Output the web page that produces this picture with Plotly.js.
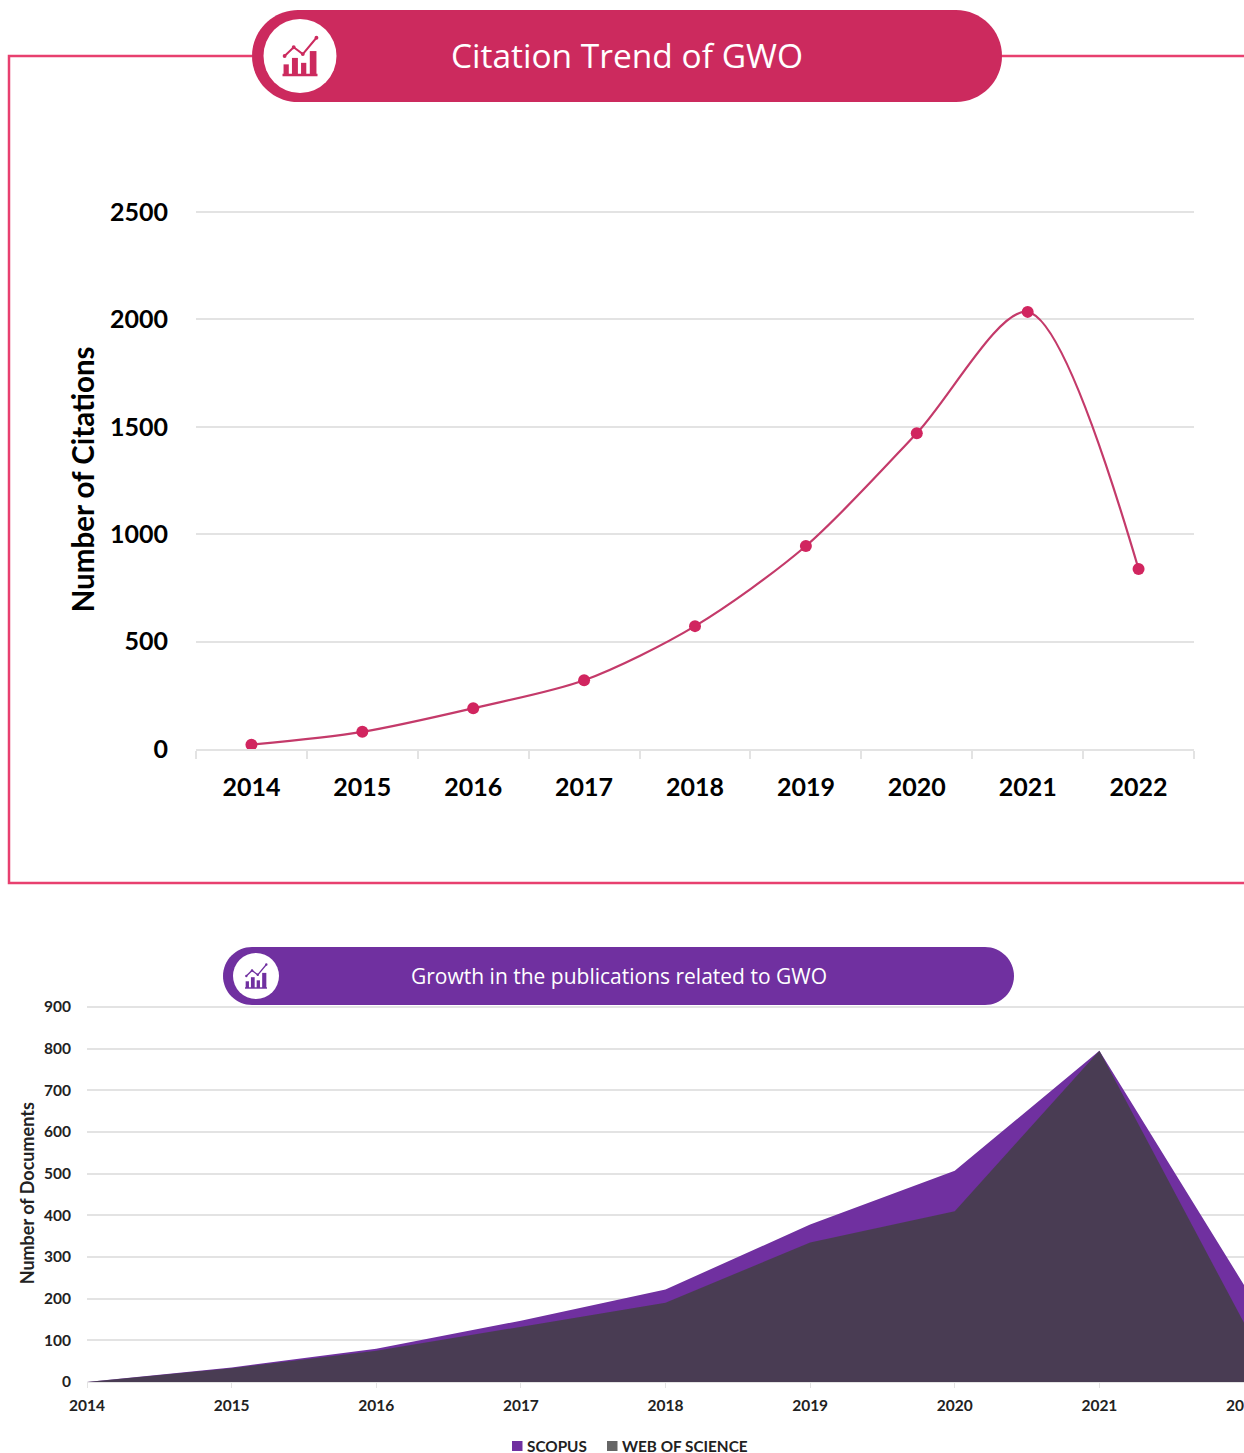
<!DOCTYPE html>
<html>
<head>
<meta charset="utf-8">
<script src="https://cdn.plot.ly/plotly-3.0.1.min.js"></script>
<style>html,body{margin:0;padding:0;background:#fff;overflow:hidden}#chart{width:1244px;height:1453px}</style>
</head>
<body>
<div id="chart"></div>
<script>
// Yearly citation counts
const citationYears = ['2014','2015','2016','2017','2018','2019','2020','2021','2022'];
const citations = [20, 80, 190, 320, 572, 945, 1470, 2035, 838];

// Yearly document counts per database
const publicationYears = ['2014','2015','2016','2017','2018','2019','2020','2021','2022'];
const scopus = [0, 35, 80, 147, 222, 378, 507, 795, 233];
const webOfScience = [0, 33, 75, 132, 190, 335, 410, 795, 142];

const citationTicks = [0, 500, 1000, 1500, 2000, 2500];
const documentTicks = [0, 100, 200, 300, 400, 500, 600, 700, 800, 900];

const W = 1244, H = 1453;
const px = x => x / W;
const py = y => 1 - y / H;

const CRIMSON = '#cc2a5e', FRAME = '#e8406f', PURPLE = '#7030a0';
const GRID = '#e3e3e3';
const FONT = 'Lato, Carlito, sans-serif';

const paperShape = o => Object.assign({xref: 'paper', yref: 'paper'}, o);

// Rounded banner behind a heading
function pill(x0, y0, x1, y1, fill) {
  const r = (y1 - y0) / 2, k = r * 0.45;
  const P = (x, y) => px(x).toFixed(5) + ',' + py(y).toFixed(5);
  const path = 'M' + P(x0 + r, y0) + ' L' + P(x1 - r, y0) +
    ' C' + P(x1 - k, y0) + ' ' + P(x1, y0 + k) + ' ' + P(x1, y0 + r) +
    ' C' + P(x1, y1 - k) + ' ' + P(x1 - k, y1) + ' ' + P(x1 - r, y1) +
    ' L' + P(x0 + r, y1) +
    ' C' + P(x0 + k, y1) + ' ' + P(x0, y1 - k) + ' ' + P(x0, y0 + r) +
    ' C' + P(x0, y0 + k) + ' ' + P(x0 + k, y0) + ' ' + P(x0 + r, y0) + ' Z';
  return paperShape({type: 'path', path, fillcolor: fill, line: {width: 0}, layer: 'above'});
}

// Small "bars with a trend line" badge, laid out in a unit box
function badge(cx, cy, rx, ry, iw, ih, color) {
  const list = [paperShape({type: 'circle', x0: px(cx - rx), x1: px(cx + rx), y0: py(cy + ry), y1: py(cy - ry),
    fillcolor: '#fff', line: {width: 0}, layer: 'above'})];
  const ox = cx - iw / 2, oy = cy - ih / 2;
  const X = u => px(ox + u * iw), Y = v => py(oy + v * ih);
  [[0.03, 0.18, 0.72], [0.27, 0.44, 0.55], [0.53, 0.68, 0.68], [0.78, 0.97, 0.37]].forEach(b => {
    list.push(paperShape({type: 'rect', x0: X(b[0]), x1: X(b[1]), y0: Y(1), y1: Y(b[2]), fillcolor: color, line: {width: 0}, layer: 'above'}));
  });
  list.push(paperShape({type: 'rect', x0: X(0), x1: X(1), y0: Y(1.03), y1: Y(0.97), fillcolor: color, line: {width: 0}, layer: 'above'}));
  const knots = [[0.06, 0.5], [0.32, 0.27], [0.58, 0.45], [0.97, 0.02]];
  const d = knots.map((k, i) => (i ? 'L' : 'M') + X(k[0]).toFixed(5) + ',' + Y(k[1]).toFixed(5)).join(' ');
  list.push(paperShape({type: 'path', path: d, line: {color, width: iw > 30 ? 2 : 1.3}, layer: 'above'}));
  const dot = iw * 0.055;
  knots.forEach(k => {
    const kx = ox + k[0] * iw, ky = oy + k[1] * ih;
    list.push(paperShape({type: 'circle', x0: px(kx - dot), x1: px(kx + dot), y0: py(ky + dot), y1: py(ky - dot), fillcolor: color, line: {width: 0}, layer: 'above'}));
  });
  return list;
}

// Square key next to a legend label
const legendKey = (x, color) => paperShape({type: 'rect', x0: px(x), x1: px(x + 10.5), y0: py(1451), y1: py(1441),
  fillcolor: color, line: {width: 0}, layer: 'above'});
const legendLabel = (x, text) => ({text, xref: 'paper', yref: 'paper', x: px(x), y: py(1445.5), xanchor: 'left', yanchor: 'middle',
  showarrow: false, xshift: -2, font: {family: FONT, size: 15.3, weight: 700, color: '#222'}});

// Open-topped frame around the citation chart
const framePath = 'M' + px(252) + ',' + py(56) + ' L' + px(9) + ',' + py(56) + ' L' + px(9) + ',' + py(883) +
  ' L' + px(1244) + ',' + py(883) + ' M' + px(1000) + ',' + py(56) + ' L' + px(1244) + ',' + py(56);

const traces = [
  {x: citationYears, y: citations, xaxis: 'x', yaxis: 'y', type: 'scatter', mode: 'lines+markers',
   line: {shape: 'spline', smoothing: 0.85, color: '#c43a6a', width: 2.2},
   marker: {color: '#d1255f', size: 12}, cliponaxis: false, showlegend: false, hoverinfo: 'x+y'},
  {x: publicationYears, y: scopus, xaxis: 'x2', yaxis: 'y2', type: 'scatter', mode: 'lines', fill: 'tozeroy',
   fillcolor: PURPLE, line: {width: 0, color: PURPLE}, name: 'SCOPUS', showlegend: false},
  {x: publicationYears, y: webOfScience, xaxis: 'x2', yaxis: 'y2', type: 'scatter', mode: 'lines', fill: 'tozeroy',
   fillcolor: 'rgba(64,64,64,0.8)', line: {width: 0, color: '#404040'}, name: 'WEB OF SCIENCE', showlegend: false}
];

const layout = {
  width: W, height: H,
  margin: {l: 0, r: 0, t: 0, b: 0},
  paper_bgcolor: '#fff', plot_bgcolor: '#fff',
  showlegend: false,
  font: {family: FONT, color: '#000'},
  title: {text: 'Citation Trend of GWO', x: px(627), y: py(56), xanchor: 'center', yanchor: 'middle',
          xref: 'paper', yref: 'paper', font: {family: '"Open Sans", sans-serif', size: 33.5, color: '#fff'}},
  xaxis: {
    domain: [px(196), px(1194)], anchor: 'y', type: 'category', categoryorder: 'array', categoryarray: citationYears,
    range: [-0.5, 8.5], tickson: 'boundaries', ticks: 'outside', ticklen: 8, tickcolor: GRID, tickwidth: 2,
    showgrid: false, showline: true, linecolor: GRID, linewidth: 2, zeroline: false,
    ticklabelstandoff: 15, tickfont: {family: FONT, size: 25, weight: 700, color: '#000'}
  },
  // The range runs a little past the top tick so its gridline is kept
  yaxis: {
    domain: [py(749), py(749 - 537 * 2510 / 2500)], anchor: 'x', range: [0, 2510], tickmode: 'array', tickvals: citationTicks,
    ticktext: citationTicks.map(String), showgrid: true, gridcolor: GRID, gridwidth: 2, zeroline: false,
    showline: false, ticks: '', ticklabelstandoff: 27, tickfont: {family: FONT, size: 25, weight: 700, color: '#000'},
    title: {text: 'Number of Citations', standoff: 6, font: {family: FONT, size: 29.5, weight: 700, color: '#000'}}
  },
  xaxis2: {
    domain: [px(87), 1], anchor: 'y2', type: 'category', categoryorder: 'array', categoryarray: publicationYears,
    range: [0, 8], ticks: 'outside', ticklen: 5, tickcolor: GRID, tickwidth: 1,
    showgrid: false, showline: true, linecolor: GRID, linewidth: 1, zeroline: false,
    ticklabeloverflow: 'allow', ticklabelstandoff: 4,
    tickfont: {family: FONT, size: 15.5, weight: 700, color: '#222'}
  },
  yaxis2: {
    domain: [py(1382), py(1382 - 375 * 906 / 900)], anchor: 'x2', range: [0, 906], tickmode: 'array', tickvals: documentTicks,
    ticktext: documentTicks.map(String), showgrid: true, gridcolor: GRID, gridwidth: 2, zeroline: false,
    showline: false, ticks: '', ticklabelstandoff: 15, tickfont: {family: FONT, size: 15.5, weight: 700, color: '#222'},
    title: {text: 'Number of Documents', standoff: 4, font: {family: FONT, size: 18, weight: 700, color: '#222'}}
  },
  annotations: [
    {text: 'Growth in the publications related to GWO', xref: 'paper', yref: 'paper', x: px(619), y: py(976),
     xanchor: 'center', yanchor: 'middle', showarrow: false,
     font: {family: '"Open Sans", sans-serif', size: 21, color: '#fff'}},
    legendLabel(527, 'SCOPUS'),
    legendLabel(622, 'WEB OF SCIENCE')
  ],
  shapes: [
    paperShape({type: 'path', path: framePath, line: {color: FRAME, width: 2.5}, fillcolor: 'rgba(0,0,0,0)', layer: 'below'}),
    pill(252, 10, 1002, 102, CRIMSON),
    ...badge(300, 56, 36.5, 37, 35, 38, CRIMSON),
    pill(223, 947, 1014, 1005, PURPLE),
    ...badge(256, 976, 23, 23, 22, 24, PURPLE),
    legendKey(512, PURPLE),
    legendKey(607, '#666666')
  ]
};

Plotly.newPlot('chart', traces, layout, {displayModeBar: false, responsive: false});
</script>
</body>
</html>
